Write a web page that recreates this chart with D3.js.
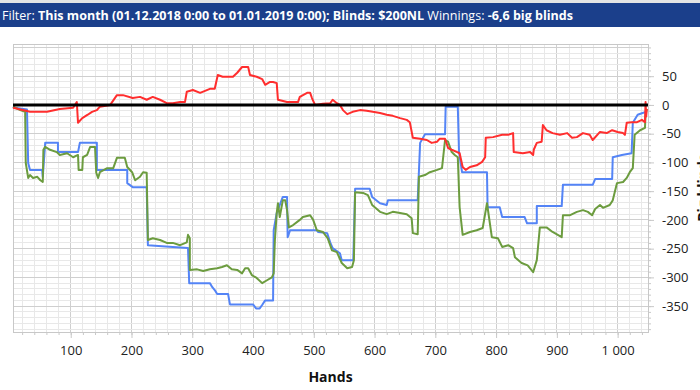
<!DOCTYPE html>
<html>
<head>
<meta charset="utf-8">
<script src="https://cdn.jsdelivr.net/npm/d3@7"></script>
<style>
  body { margin: 0; background: #fff; }
  #container { width: 700px; height: 390px; overflow: hidden; }
</style>
</head>
<body>
<div id="container"></div>
<script>
// Chart dimensions and margins.
const width = 700;
const height = 390;
const marginTop = 44;
const marginRight = 52;
const marginBottom = 58;
const marginLeft = 13;

// Tick labels
const handTicks = [100, 200, 300, 400, 500, 600, 700, 800, 900, 1000];
const bbTicks = [-350, -300, -250, -200, -150, -100, -50, 0, 50];

// Series values: [hand, big blinds]
const red = [[5,-5],[33,-12],[61,-12],[82,-7],[104,-5],[110,5],[112,-31],[119,-23],[128,-17],[135,-12],[143,-9],[148,-3],[165,0],[176,17],[186,17],[202,12],[214,14],[225,9],[235,14],[247,9],[258,3],[268,3],[280,5],[288,5],[291,23],[301,26],[313,21],[329,28],[337,28],[342,52],[350,49],[367,49],[374,56],[382,66],[392,66],[395,52],[406,49],[415,45],[420,35],[428,40],[433,40],[439,38],[441,9],[456,5],[474,5],[477,14],[489,21],[494,21],[497,12],[502,0],[515,2],[527,3],[531,9],[538,3],[543,0],[548,-9],[555,-16],[564,-12],[576,-9],[587,-10],[597,-12],[609,-14],[620,-17],[630,-19],[642,-23],[653,-26],[658,-30],[663,-57],[675,-59],[686,-61],[694,-66],[703,-64],[707,-59],[716,-59],[721,-75],[727,-78],[736,-82],[740,-84],[745,-108],[750,-113],[757,-108],[768,-105],[777,-99],[782,-91],[783,-57],[795,-56],[810,-52],[820,-52],[828,-49],[829,-82],[844,-84],[856,-82],[861,-87],[862,-78],[867,-66],[875,-64],[877,-35],[883,-44],[893,-49],[905,-52],[917,-49],[925,-57],[933,-56],[943,-49],[954,-52],[959,-61],[971,-47],[982,-49],[991,-44],[1000,-47],[1009,-49],[1012,-52],[1015,-31],[1023,-30],[1032,-30],[1040,-26],[1045,-30],[1046,5],[1047,-20],[1048,-7]];

const blue = [[5,-3],[8,-5],[28,-8],[30,-101],[33,-113],[53,-113],[54,-125],[58,-66],[79,-66],[79,-82],[112,-82],[115,-66],[143,-66],[143,-113],[193,-113],[193,-136],[202,-143],[225,-143],[227,-244],[268,-247],[293,-249],[295,-310],[329,-310],[333,-317],[337,-322],[341,-329],[359,-329],[362,-347],[400,-347],[405,-354],[411,-354],[415,-348],[420,-340],[433,-340],[434,-218],[439,-188],[449,-160],[456,-160],[457,-230],[461,-218],[505,-218],[507,-221],[522,-223],[527,-239],[531,-249],[543,-258],[546,-270],[565,-270],[568,-146],[592,-146],[596,-160],[609,-171],[620,-174],[622,-166],[671,-166],[675,-66],[683,-51],[716,-51],[717,-3],[737,-3],[739,-82],[744,-117],[785,-117],[786,-178],[806,-178],[810,-195],[847,-195],[851,-206],[867,-206],[867,-176],[908,-176],[910,-139],[959,-139],[963,-129],[991,-129],[992,-91],[1007,-87],[1023,-84],[1025,-31],[1033,-17],[1041,-14],[1048,-12]];

const green = [[5,-3],[17,-9],[25,-12],[26,-101],[30,-127],[33,-122],[38,-127],[45,-125],[50,-131],[54,-134],[55,-78],[58,-73],[66,-78],[77,-82],[82,-87],[94,-84],[104,-91],[112,-87],[113,-113],[119,-113],[120,-91],[127,-87],[132,-73],[140,-73],[142,-118],[145,-127],[148,-117],[160,-110],[170,-110],[176,-92],[189,-92],[193,-108],[201,-117],[206,-131],[214,-125],[219,-117],[225,-118],[227,-235],[235,-232],[247,-235],[258,-240],[268,-240],[280,-244],[291,-239],[293,-226],[296,-232],[296,-287],[308,-286],[318,-289],[329,-286],[341,-284],[349,-282],[357,-279],[365,-286],[374,-287],[382,-293],[387,-284],[392,-284],[398,-296],[406,-301],[415,-310],[423,-305],[431,-300],[434,-293],[436,-235],[439,-188],[441,-171],[444,-195],[449,-166],[453,-166],[456,-183],[459,-213],[466,-209],[477,-200],[482,-195],[494,-192],[499,-200],[505,-218],[515,-221],[523,-232],[530,-253],[538,-256],[546,-275],[555,-284],[563,-282],[566,-270],[568,-152],[581,-153],[589,-157],[596,-174],[609,-186],[620,-190],[630,-186],[642,-188],[653,-190],[661,-197],[663,-223],[671,-225],[673,-125],[683,-122],[691,-117],[703,-113],[711,-110],[716,-61],[721,-64],[727,-82],[732,-87],[737,-91],[740,-178],[745,-226],[757,-221],[768,-218],[778,-214],[785,-171],[786,-178],[793,-230],[803,-232],[810,-247],[820,-244],[828,-249],[831,-265],[842,-275],[852,-279],[861,-291],[867,-270],[872,-213],[883,-213],[893,-221],[908,-230],[910,-192],[921,-192],[933,-186],[943,-183],[951,-186],[958,-192],[963,-181],[971,-174],[976,-179],[987,-174],[992,-166],[999,-136],[1009,-134],[1015,-127],[1020,-117],[1025,-110],[1028,-52],[1037,-44],[1045,-40],[1046,-17],[1048,-7]];

// Scales
const x = d3.scaleLinear()
  .domain([5, 1050])
  .range([marginLeft, width - marginRight]);

const y = d3.scaleLinear()
  .domain([-395, 106])
  .range([height - marginBottom, marginTop]);

const minorX = d3.range(20, 1050, 20);
const minorY = d3.range(-390, 106, 10);

const svg = d3.create("svg")
  .attr("width", width)
  .attr("height", height)
  .style("font-family", "'Open Sans', sans-serif");
document.getElementById("container").appendChild(svg.node());

// Header bar
svg.append("rect").attr("width", width).attr("height", 3).attr("fill", "#e4e4e4");
svg.append("rect").attr("y", 3).attr("width", width).attr("height", 24).attr("fill", "#1b3f8b");
const header = svg.append("text")
  .attr("x", 2)
  .attr("y", 20)
  .attr("fill", "#fff")
  .attr("font-size", 12.5);
header.append("tspan").text("Filter: ");
header.append("tspan").attr("font-weight", "bold").text("This month (01.12.2018 0:00 to 01.01.2019 0:00); Blinds: $200NL");
header.append("tspan").text(" Winnings: ");
header.append("tspan").attr("font-weight", "bold").text("-6,6 big blinds");
header.attr("textLength", 571).attr("lengthAdjust", "spacingAndGlyphs");

// Grid
const grid = svg.append("g");
grid.selectAll("line.vx")
  .data(minorX)
  .join("line")
  .attr("x1", d => x(d)).attr("x2", d => x(d))
  .attr("y1", marginTop).attr("y2", height - marginBottom)
  .attr("stroke", d => d % 100 === 0 ? "#cfcfcf" : "#e8e8e8")
  .attr("shape-rendering", "crispEdges");
grid.selectAll("line.hy")
  .data(minorY)
  .join("line")
  .attr("x1", marginLeft).attr("x2", width - marginRight)
  .attr("y1", d => y(d)).attr("y2", d => y(d))
  .attr("stroke", d => d % 50 === 0 ? "#cfcfcf" : "#e8e8e8")
  .attr("shape-rendering", "crispEdges");

// Plot border
svg.append("rect")
  .attr("x", marginLeft).attr("y", marginTop)
  .attr("width", width - marginRight - marginLeft)
  .attr("height", height - marginBottom - marginTop)
  .attr("fill", "none").attr("stroke", "#c8c8c8")
  .attr("shape-rendering", "crispEdges");

const fmtHands = d => d >= 1000 ? d3.format(",")(d).replace(",", " ") : String(d);

// x-axis (minor and major)
svg.append("g")
  .attr("transform", `translate(0,${height - marginBottom})`)
  .call(d3.axisBottom(x).tickValues(minorX).tickSize(3).tickFormat(""))
  .call(g => g.select(".domain").remove())
  .call(g => g.selectAll("line").attr("stroke", "#c8c8c8"));
svg.append("g")
  .attr("transform", `translate(0,${height - marginBottom})`)
  .call(d3.axisBottom(x).tickValues(handTicks).tickSize(6).tickPadding(8).tickFormat(fmtHands))
  .call(g => g.select(".domain").remove())
  .call(g => g.selectAll("line").attr("stroke", "#c8c8c8"))
  .call(g => g.selectAll("text").attr("fill", "#222").attr("font-size", 13).attr("font-family", "'Open Sans', sans-serif"));

// y-axis on the right
svg.append("g")
  .attr("transform", `translate(${width - marginRight},0)`)
  .call(d3.axisRight(y).tickValues(minorY).tickSize(3).tickFormat(""))
  .call(g => g.select(".domain").remove())
  .call(g => g.selectAll("line").attr("stroke", "#c8c8c8"));
svg.append("g")
  .attr("transform", `translate(${width - marginRight},0)`)
  .call(d3.axisRight(y).tickValues(bbTicks).tickSize(6).tickPadding(8).tickFormat(d => String(d)))
  .call(g => g.select(".domain").remove())
  .call(g => g.selectAll("line").attr("stroke", "#c8c8c8"))
  .call(g => g.selectAll("text").attr("fill", "#222").attr("font-size", 13).attr("font-family", "'Open Sans', sans-serif"));

// Axis titles
svg.append("text")
  .attr("x", (marginLeft + width - marginRight) / 2)
  .attr("y", 382)
  .attr("text-anchor", "middle")
  .attr("font-size", 14)
  .attr("font-weight", "bold")
  .attr("fill", "#111")
  .text("Hands");
svg.append("text")
  .attr("transform", `translate(708,${(marginTop + height - marginBottom) / 2}) rotate(-90)`)
  .attr("text-anchor", "middle")
  .attr("font-size", 14)
  .attr("font-weight", "bold")
  .attr("fill", "#111")
  .text("Big blinds");

// Lines
const line = d3.line()
  .x(d => x(d[0]))
  .y(d => y(d[1]));

[[blue, "#5484f6"], [green, "#6c9c3f"], [red, "#ff2e2e"]].forEach(([data, colour]) => {
  svg.append("path")
    .datum(data)
    .attr("fill", "none")
    .attr("stroke", colour)
    .attr("stroke-width", 2)
    .attr("stroke-linejoin", "round")
    .attr("d", line);
});

// Zero line
svg.append("line")
  .attr("x1", marginLeft).attr("x2", width - marginRight)
  .attr("y1", y(0)).attr("y2", y(0))
  .attr("stroke", "#000")
  .attr("stroke-width", 3);
</script>
</body>
</html>
